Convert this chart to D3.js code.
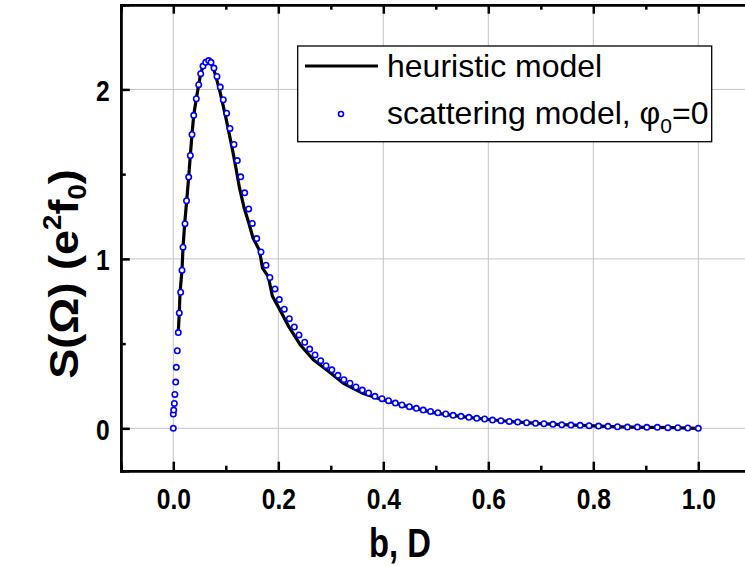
<!DOCTYPE html>
<html>
<head>
<meta charset="utf-8">
<script src="https://cdn.jsdelivr.net/npm/d3@7"></script>
<style>
  body { margin: 0; background: #fff; }
  svg { display: block; font-family: "Liberation Sans", Arial, sans-serif; }
</style>
</head>
<body>
<svg id="chart" width="745" height="566"></svg>
<script>
// scattering model, phi0 = 0 (open blue circles)
const scatterX = [0, 0, 0.0008, 0.002, 0.003, 0.0046, 0.0057, 0.0076, 0.0095, 0.0114, 0.014, 0.0166, 0.0185, 0.0223, 0.0252, 0.0293,
  0.0324, 0.0356, 0.0389, 0.0438, 0.0484, 0.0522, 0.0566, 0.0617, 0.0674, 0.0718, 0.0775, 0.0832, 0.0895, 0.0952, 0.1017, 0.108,
  0.1156, 0.1219, 0.1284, 0.136, 0.1436, 0.1505, 0.159, 0.167, 0.1766, 0.184, 0.1937, 0.2019, 0.2114, 0.221, 0.2305, 0.2394, 0.2503,
  0.2598, 0.27, 0.2808, 0.291, 0.302, 0.3137, 0.325, 0.3366, 0.348, 0.36, 0.372, 0.384, 0.3975, 0.41, 0.423, 0.4356, 0.4497, 0.463,
  0.476, 0.49, 0.504, 0.519, 0.533, 0.548, 0.563, 0.578, 0.593, 0.608, 0.624, 0.64, 0.656, 0.673, 0.69, 0.706, 0.723, 0.74, 0.7575,
  0.775, 0.792, 0.81, 0.828, 0.846, 0.865, 0.884, 0.902, 0.922, 0.942, 0.961, 0.98, 1.0];
const scatterY = [0, 0.084, 0.108, 0.147, 0.2, 0.273, 0.36, 0.458, 0.565, 0.681, 0.803, 0.933, 1.069, 1.208, 1.343, 1.483,
  1.61, 1.734, 1.847, 1.945, 2.028, 2.093, 2.138, 2.16, 2.17, 2.16, 2.126, 2.077, 2.014, 1.939, 1.86, 1.77,
  1.675, 1.58, 1.484, 1.39, 1.295, 1.209, 1.12, 1.041, 0.963, 0.89, 0.823, 0.76, 0.703, 0.647, 0.598, 0.551, 0.508,
  0.468, 0.433, 0.399, 0.37, 0.345, 0.313, 0.287, 0.266, 0.244, 0.226, 0.2085, 0.189, 0.175, 0.163, 0.149, 0.138, 0.128, 0.118,
  0.108, 0.1, 0.092, 0.0845, 0.077, 0.071, 0.065, 0.059, 0.055, 0.049, 0.045, 0.041, 0.037, 0.033, 0.0295, 0.027, 0.0236, 0.021, 0.019,
  0.0177, 0.0157, 0.0136, 0.012, 0.0095, 0.0077, 0.0077, 0.006, 0.006, 0.004, 0.004, 0.002, 0.0];

// heuristic model (black line)
const heurX = [0.0095, 0.0114, 0.0128, 0.0166, 0.0185, 0.0217, 0.0255, 0.0293, 0.0324, 0.0356, 0.0389, 0.0438, 0.0484, 0.0522,
  0.0566, 0.0617, 0.0674, 0.0718, 0.0775, 0.083, 0.089, 0.095, 0.101, 0.107, 0.113, 0.1196, 0.126, 0.135, 0.144, 0.152, 0.1638,
  0.170, 0.181, 0.1886, 0.2032, 0.22, 0.2413, 0.2667, 0.2985, 0.324, 0.362, 0.40, 0.45, 0.50, 0.55, 0.60, 0.65, 0.70, 0.75, 0.80,
  0.85, 0.90, 0.95, 1.0];
const heurY = [0.57, 0.68, 0.80, 0.935, 1.067, 1.208, 1.343, 1.483, 1.61, 1.734, 1.847, 1.945, 2.028, 2.093,
  2.138, 2.16, 2.168, 2.155, 2.115, 2.055, 1.985, 1.905, 1.82, 1.73, 1.64, 1.53, 1.42, 1.30, 1.21, 1.122, 1.053,
  0.945, 0.895, 0.781, 0.699, 0.60, 0.495, 0.405, 0.33, 0.266, 0.205, 0.168, 0.125, 0.09, 0.069, 0.052, 0.038, 0.028, 0.02, 0.015,
  0.009, 0.006, 0.004, 0.0];

const xMajor = [0, 0.2, 0.4, 0.6, 0.8, 1.0];
const xMinor = [-0.1, 0.1, 0.3, 0.5, 0.7, 0.9];
const yMajor = [0, 1, 2];
const yMinor = [0.5, 1.5];

const svg = d3.select("#chart");
const pLeft = 120.8, pRight = 750.8, pTop = 4.7, pBottom = 470.7;
const narrow = 0.82; // tick labels look like a narrow bold face

const x = d3.scaleLinear().domain([-0.1, 1.1]).range([pLeft, pRight]);
const y = d3.scaleLinear().domain([-0.25, 2.5]).range([pBottom, pTop]);

// grid
svg.append("g").selectAll("line").data(xMajor).enter().append("line")
    .attr("x1", d => x(d)).attr("x2", d => x(d))
    .attr("y1", pTop).attr("y2", pBottom)
    .attr("stroke", "#c4c4c4").attr("stroke-width", 1);
svg.append("g").selectAll("line").data(yMajor).enter().append("line")
    .attr("x1", pLeft).attr("x2", pRight)
    .attr("y1", d => y(d)).attr("y2", d => y(d))
    .attr("stroke", "#c4c4c4").attr("stroke-width", 1);

// axes (ticks point inward)
const axB = svg.append("g").attr("transform", "translate(0," + pBottom + ")")
    .call(d3.axisBottom(x).tickValues(xMajor).tickSize(-9).tickFormat(d3.format(".1f")));
const axBm = svg.append("g").attr("transform", "translate(0," + pBottom + ")")
    .call(d3.axisBottom(x).tickValues(xMinor).tickSize(-5).tickFormat(""));
const axT = svg.append("g").attr("transform", "translate(0," + pTop + ")")
    .call(d3.axisTop(x).tickValues(xMajor).tickSize(-9).tickFormat(""));
const axTm = svg.append("g").attr("transform", "translate(0," + pTop + ")")
    .call(d3.axisTop(x).tickValues(xMinor).tickSize(-5).tickFormat(""));
const axL = svg.append("g").attr("transform", "translate(" + pLeft + ",0)")
    .call(d3.axisLeft(y).tickValues(yMajor).tickSize(-9).tickFormat(d3.format("d")));
const axLm = svg.append("g").attr("transform", "translate(" + pLeft + ",0)")
    .call(d3.axisLeft(y).tickValues(yMinor).tickSize(-5).tickFormat(""));

[axB, axBm, axT, axTm, axL, axLm].forEach(a => {
    a.select(".domain").attr("stroke", "#000").attr("stroke-width", 2.5);
    a.selectAll(".tick line").attr("stroke", "#000").attr("stroke-width", 2.5);
});
axB.selectAll(".tick text")
    .attr("y", 0).attr("dy", 0).attr("transform", "translate(0,38) scale(" + narrow + ",1)")
    .attr("font-size", 30).attr("font-weight", "bold").attr("fill", "#000")
    .attr("font-family", "Liberation Sans, Arial, sans-serif");
axL.selectAll(".tick text")
    .attr("x", 0).attr("dy", "0.36em").attr("transform", "translate(-11,0) scale(" + narrow + ",1)")
    .attr("font-size", 30).attr("font-weight", "bold").attr("fill", "#000")
    .attr("font-family", "Liberation Sans, Arial, sans-serif");

// heuristic model line
const line = d3.line().x(d => x(d[0])).y(d => y(d[1]));
svg.append("path")
    .datum(heurX.map((v, i) => [v, heurY[i]]))
    .attr("d", line)
    .attr("fill", "none").attr("stroke", "#000").attr("stroke-width", 3.2)
    .attr("stroke-linejoin", "round");

// scattering model points
svg.append("g").selectAll("circle").data(scatterX.map((v, i) => [v, scatterY[i]])).enter().append("circle")
    .attr("cx", d => x(d[0])).attr("cy", d => y(d[1]))
    .attr("r", 2.7)
    .attr("fill", "#fff").attr("stroke", "#0000ff").attr("stroke-width", 1.6);

// axis titles
svg.append("text")
    .attr("transform", "translate(400,557) scale(" + narrow + ",1)")
    .attr("text-anchor", "middle")
    .attr("font-size", 40).attr("font-weight", "bold")
    .text("b, D");

const yt = svg.append("text")
    .attr("transform", "translate(78,274) rotate(-90) scale(1.1,1)")
    .attr("text-anchor", "middle")
    .attr("font-size", 41).attr("font-weight", "bold");
yt.append("tspan").text("S(Ω) (e");
yt.append("tspan").attr("font-size", 25).attr("dy", -17).text("2");
yt.append("tspan").attr("dy", 17).text("f");
yt.append("tspan").attr("font-size", 25).attr("dy", 8).text("0");
yt.append("tspan").attr("dy", -8).text(")");

// legend
const lg = svg.append("g");
lg.append("rect")
    .attr("x", 297.7).attr("y", 46).attr("width", 414).attr("height", 95.7)
    .attr("fill", "#fff").attr("stroke", "#000").attr("stroke-width", 1.3);
lg.append("line")
    .attr("x1", 305).attr("x2", 378).attr("y1", 66).attr("y2", 66)
    .attr("stroke", "#000").attr("stroke-width", 3.2);
lg.append("circle")
    .attr("cx", 341).attr("cy", 114).attr("r", 2.5)
    .attr("fill", "#fff").attr("stroke", "#0000ff").attr("stroke-width", 1.6);
lg.append("text")
    .attr("x", 387).attr("y", 77)
    .attr("font-size", 32)
    .text("heuristic model");
const l2 = lg.append("text")
    .attr("x", 387).attr("y", 124)
    .attr("font-size", 32);
l2.append("tspan").text("scattering model, φ");
l2.append("tspan").attr("font-size", 21).attr("dy", 9).text("0");
l2.append("tspan").attr("dy", -9).text("=0");
</script>
</body>
</html>
